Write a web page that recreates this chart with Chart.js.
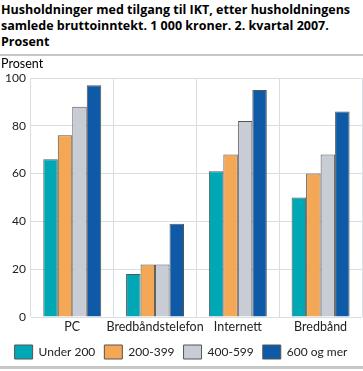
<!DOCTYPE html>
<html>
<head>
<meta charset="utf-8">
<script src="https://cdn.jsdelivr.net/npm/chart.js@4"></script>
<style>
    body { margin: 0; background: #fff; width: 363px; height: 371px; overflow: hidden; font-family: "Open Sans", sans-serif; }
    .title { font-weight: bold; font-size: 12.5px; line-height: 16px; color: #000; padding: 2px 0 0 1px; height: 50px; }
    .rule { height: 2px; background: #c8c8c8; margin: 2px 0 0 0; }
    .wrap { position: relative; width: 363px; height: 310px; }
    .bottom { height: 3px; background: #c8c8c8; }
</style>
</head>
<body>
<div class="title">Husholdninger med tilgang til IKT, etter husholdningens samlede bruttoinntekt. 1 000 kroner. 2. kvartal 2007. Prosent</div>
<div class="rule"></div>
<div class="wrap"><canvas id="chart"></canvas></div>
<div class="bottom"></div>
<script>
const categories = ['PC', 'Bredbåndstelefon', 'Internett', 'Bredbånd'];
const seriesNames = ['Under 200', '200-399', '400-599', '600 og mer'];
const under200 = [66, 18, 61, 50];
const from200to399 = [76, 22, 68, 60];
const from400to599 = [88, 22, 82, 68];
const over600 = [97, 39, 95, 86];
const yTicks = [0, 20, 40, 60, 80, 100];

const colors = ['#00a8b5', '#f4a855', '#c8ccd4', '#0e5aa6'];
const values = [under200, from200to399, from400to599, over600];
const axisFont = { size: 12.5, family: 'Lato' };

// draws "Prosent" above the value axis
const unitLabel = {
    id: 'unitLabel',
    afterDraw(chart) {
        const ctx = chart.ctx;
        ctx.save();
        ctx.font = '12.5px Lato, sans-serif';
        ctx.fillStyle = '#000';
        ctx.textBaseline = 'middle';
        ctx.fillText('Prosent', 1, 8);
        ctx.restore();
    }
};

new Chart(document.getElementById('chart'), {
    type: 'bar',
    data: {
        labels: categories,
        datasets: seriesNames.map((name, i) => ({
            label: name,
            data: values[i],
            backgroundColor: colors[i],
            borderColor: '#555',
            borderWidth: 1,
            barPercentage: 1,
            categoryPercentage: 0.7
        }))
    },
    options: {
        responsive: true,
        maintainAspectRatio: false,
        animation: false,
        layout: { padding: { top: 22, right: 1, left: 0, bottom: -3 } },
        scales: {
            y: {
                min: 0,
                max: 100,
                afterBuildTicks: axis => { axis.ticks = yTicks.map(v => ({ value: v })); },
                grid: { color: '#d9dde4', drawTicks: false },
                border: { display: false },
                ticks: { color: '#222', font: { size: 12, family: 'Lato' }, padding: 5 }
            },
            x: {
                grid: { color: '#d9dde4', drawTicks: false, offset: true },
                border: { display: false },
                ticks: { color: '#222', font: axisFont, padding: 2, maxRotation: 0, minRotation: 0, autoSkip: false }
            }
        },
        plugins: {
            legend: {
                position: 'bottom',
                labels: {
                    boxWidth: 18,
                    boxHeight: 14,
                    padding: 9,
                    color: '#222',
                    font: { size: 12, family: 'Lato' }
                }
            },
            tooltip: { enabled: false }
        }
    },
    plugins: [unitLabel]
});
</script>
</body>
</html>
